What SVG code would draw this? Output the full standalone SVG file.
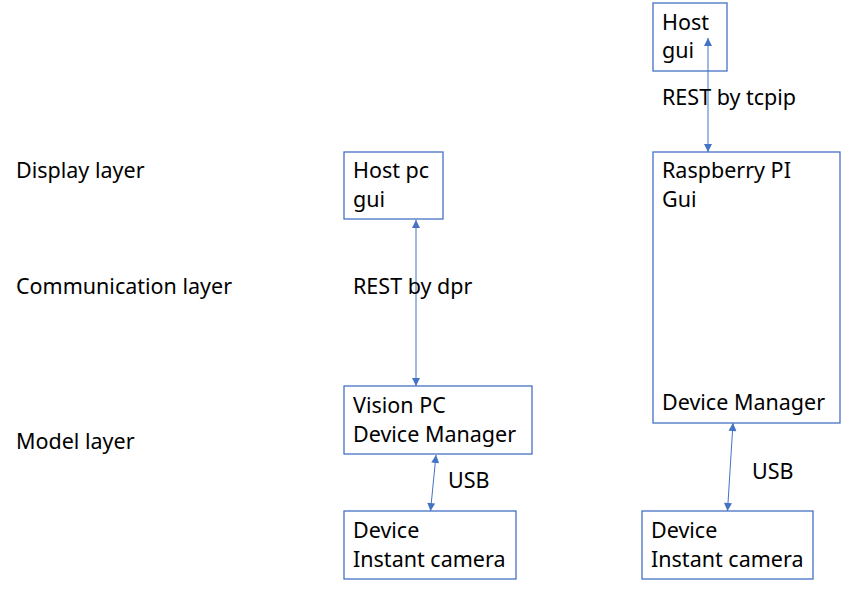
<svg xmlns="http://www.w3.org/2000/svg" width="844" height="589" viewBox="0 0 844 589">
<defs>
<style>
text{font-family:"Noto Sans","Open Sans","Liberation Sans",sans-serif;font-size:21.5px;fill:#000}
.box{fill:#fff;stroke:#4472C4;stroke-width:1.3}
.con{stroke:#4472C4;stroke-width:1;fill:none;marker-start:url(#ah);marker-end:url(#ah)}
</style>
<marker id="ah" viewBox="0 0 10 10" refX="10" refY="5" markerWidth="10" markerHeight="8" markerUnits="userSpaceOnUse" orient="auto-start-reverse">
<path d="M0,0L10,5L0,10z" fill="#4472C4"/>
</marker>
</defs>
<rect width="844" height="589" fill="#fff"/>
<g id="layer-labels">
<text x="16" y="178">Display layer</text>
<text x="16" y="294">Communication layer</text>
<text x="16" y="449">Model layer</text>
</g>
<g id="host-pc-gui">
<rect class="box" x="344" y="152" width="99" height="67"/>
<text x="353" y="178">Host pc</text>
<text x="353" y="207">gui</text>
</g>
<g id="vision-pc">
<rect class="box" x="344" y="386" width="188" height="68"/>
<text x="353" y="413">Vision PC</text>
<text x="353" y="442">Device Manager</text>
</g>
<g id="device-left">
<rect class="box" x="344" y="511" width="172" height="68"/>
<text x="353" y="538">Device</text>
<text x="353" y="567">Instant camera</text>
</g>
<g id="host-gui">
<rect class="box" x="653" y="3" width="74" height="68"/>
<text x="662" y="30">Host</text>
<text x="662" y="58">gui</text>
</g>
<g id="raspberry-pi">
<rect class="box" x="653" y="152" width="187" height="271"/>
<text x="662" y="178">Raspberry PI</text>
<text x="662" y="207">Gui</text>
<text x="662" y="410">Device Manager</text>
</g>
<g id="device-right">
<rect class="box" x="642" y="511" width="171" height="68"/>
<text x="651" y="538">Device</text>
<text x="651" y="567">Instant camera</text>
</g>
<g id="connectors">
<line class="con" x1="416" y1="220" x2="416" y2="386"/>
<line class="con" x1="436" y1="455" x2="430.5" y2="511"/>
<line class="con" x1="708" y1="38" x2="708" y2="152"/>
<line class="con" x1="733" y1="423" x2="727.5" y2="511"/>
</g>
<g id="connector-labels">
<text x="353" y="294">REST by dpr</text>
<text x="448" y="488">USB</text>
<text x="662" y="105">REST by tcpip</text>
<text x="752" y="479">USB</text>
</g>
</svg>
